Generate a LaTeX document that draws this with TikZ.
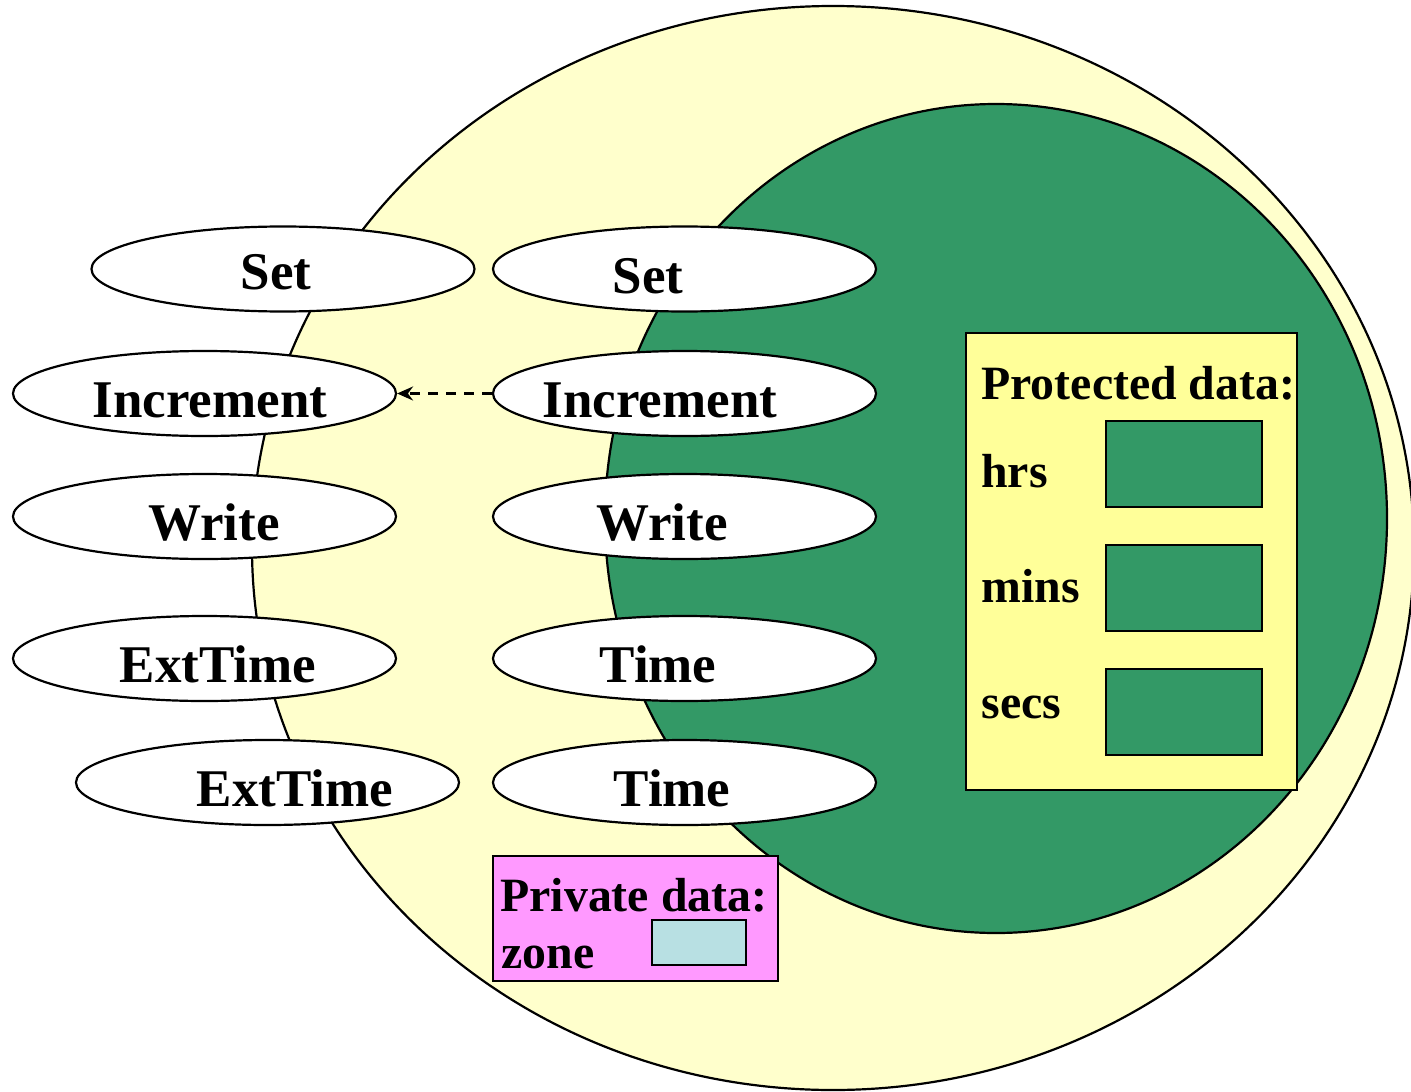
\documentclass[tikz,border=0pt]{standalone}
\usepackage{fontspec}
\setmainfont{Liberation Serif}
\usetikzlibrary{shapes.geometric,arrows.meta}
\definecolor{paleyellow}{HTML}{FFFFCC}
\definecolor{darkgreen}{HTML}{339966}
\definecolor{boxyellow}{HTML}{FFFF99}
\definecolor{pinkbox}{HTML}{FF99FF}
\definecolor{lightblue}{HTML}{B8E0E3}
\tikzset{
  outline/.style={draw=black, line width=1.1pt},
  opnode/.style={outline, ellipse, fill=white, minimum width=191.5pt, minimum height=42.5pt, inner sep=0pt},
  optext/.style={font=\fontsize{26.5pt}{30pt}\selectfont\bfseries, anchor=base, inner sep=0pt},
  datatext/.style={font=\fontsize{23.9pt}{27pt}\selectfont\bfseries, anchor=base west, inner sep=0pt},
  slot/.style={outline, fill=darkgreen}
}
\begin{document}
\begin{tikzpicture}[x=0.5pt,y=-0.5pt]
\useasboundingbox (0,0) rectangle (1411,1091);
\clip (0,0) rectangle (1411,1091);
% outer and inner regions
\filldraw[outline, fill=paleyellow] (833,548) ellipse [x radius=581, y radius=542];
\filldraw[outline, fill=darkgreen] (996,518.5) ellipse [x radius=391, y radius=414.5];
% operation ellipses, left column
\node[opnode] (lset)  at (283,269)   {};
\node[opnode] (lincr) at (204.5,393.5) {};
\node[opnode] (lwrite) at (204.5,516.5) {};
\node[opnode] (lext)  at (204.5,658.5) {};
\node[opnode] (lext2) at (267.5,782.5) {};
% right column
\node[opnode] (rset)  at (684.5,269) {};
\node[opnode] (rincr) at (684.5,393.5) {};
\node[opnode] (rwrite) at (684.5,516.5) {};
\node[opnode] (rtime) at (684.5,658.5) {};
\node[opnode] (rtime2) at (684.5,782.5) {};
% labels
\node[optext] (tlset) at (276,289) {Set};
\node[optext] (tlincr) at (210,417) {Increment};
\node[optext] (tlwrite) at (214,540) {Write};
\node[optext] (tlext) at (218,682) {ExtTime};
\node[optext] (tlext2) at (295,806) {ExtTime};
\node[optext] (trset) at (648,293) {Set};
\node[optext] (trincr) at (660,417) {Increment};
\node[optext] (trwrite) at (662,540) {Write};
\node[optext] (trtime) at (658,682) {Time};
\node[optext] (trtime2) at (672,806) {Time};
% dashed arrow
\draw[line width=1.1pt, dash pattern=on 5pt off 4pt, -{Stealth[length=8pt,width=7pt]}] (rincr.west) -- (lincr.east);
% protected data box
\draw[outline, fill=boxyellow] (966,333) rectangle (1297,790);
\node[datatext] (ptitle) at (981,399) {Protected data:};
\node[datatext] (phrs) at (981,487) {hrs};
\node[datatext] (pmins) at (981,602) {mins};
\node[datatext] (psecs) at (981,718) {secs};
\draw[slot] (1106,421) rectangle (1262,507);
\draw[slot] (1106,545) rectangle (1262,631);
\draw[slot] (1106,669) rectangle (1262,755);
% private data box
\draw[outline, fill=pinkbox] (493,856) rectangle (778,981);
\node[datatext] (prtitle) at (500,911) {Private data:};
\node[datatext] (przone) at (501,968) {zone};
\draw[outline, fill=lightblue] (652,920) rectangle (746,965);
\end{tikzpicture}
\end{document}
